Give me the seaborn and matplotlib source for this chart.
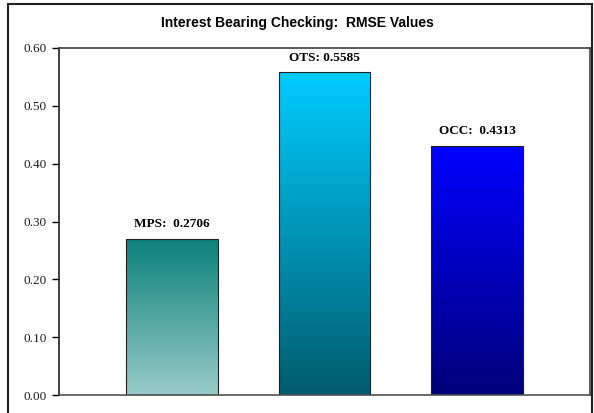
import numpy as np
import pandas as pd
import matplotlib
matplotlib.use("Agg")
import matplotlib.pyplot as plt
import seaborn as sns
from matplotlib.colors import LinearSegmentedColormap
from matplotlib.patches import Rectangle

categories = ["MPS", "OTS", "OCC"]
values = [0.2706, 0.5585, 0.4313]
labels = ["MPS:  0.2706", "OTS: 0.5585", "OCC:  0.4313"]
yticks = [0.0, 0.1, 0.2, 0.3, 0.4, 0.5, 0.6]
title = "Interest Bearing Checking:  RMSE Values"
# gradient colours (top, bottom)
grad_colors = [("#0c817a", "#98cbc9"), ("#00ccff", "#005c6c"), ("#0000ff", "#00007a")]

sns.set_theme(style="white")
fig = plt.figure(figsize=(5.94, 4.13), dpi=100)
ax = fig.add_axes([59/594, 1-395/413, (590-59)/594, (395-48)/413])

df = pd.DataFrame({"cat": categories, "val": values})
sns.barplot(data=df, x="cat", y="val", ax=ax, width=0.6, color="white",
            edgecolor="#202020", linewidth=0.8)

ax.set_xlim(-0.74, 2.74)
ax.set_ylim(0, 0.6)
for p, (top, bot) in zip(ax.patches, grad_colors):
    x0, y0 = p.get_x(), p.get_y()
    w, h = p.get_width(), p.get_height()
    cmap = LinearSegmentedColormap.from_list("g", [bot, top])
    grad = np.linspace(0, 1, 256).reshape(-1, 1)
    im = ax.imshow(grad, cmap=cmap, origin="lower", aspect="auto",
                   extent=[x0, x0 + w, y0, y0 + h], zorder=1)
    im.set_clip_path(p)
    p.set_facecolor("none")
    p.set_zorder(2)
ax.set_xlim(-0.74, 2.74)
ax.set_ylim(0, 0.6)

for i, (v, lab) in enumerate(zip(values, labels)):
    ax.text(i, v + 0.014, lab, ha="center", va="bottom", fontsize=9.5,
            fontweight="bold", family="Liberation Serif", color="black")

ax.set_yticks(yticks)
ax.set_yticklabels([f"{t:.2f}" for t in yticks], family="Liberation Serif", fontsize=9.5)
ax.set_xticks([])
ax.set_xlabel("")
ax.set_ylabel("")
ax.tick_params(axis="y", direction="out", length=5, width=1, color="black", pad=4,
               left=True, labelcolor="#202020")
for s in ["top", "right"]:
    ax.spines[s].set_color("#404040")
    ax.spines[s].set_linewidth(1.2)
ax.spines["left"].set_color("#202020")
ax.spines["left"].set_linewidth(1.2)
ax.spines["bottom"].set_color("#505050")
ax.spines["bottom"].set_linewidth(1.2)

fig.text(0.5, 1-23/413, title, ha="center", va="center", fontsize=10,
         fontweight="bold", family="Liberation Sans", color="black")

fig.patches.append(Rectangle((8/594, -0.02), (592-8)/594, 1.02-4/413,
                             transform=fig.transFigure, fill=False,
                             edgecolor="#202020", linewidth=1.5))

fig.savefig("out.png", dpi=100)
